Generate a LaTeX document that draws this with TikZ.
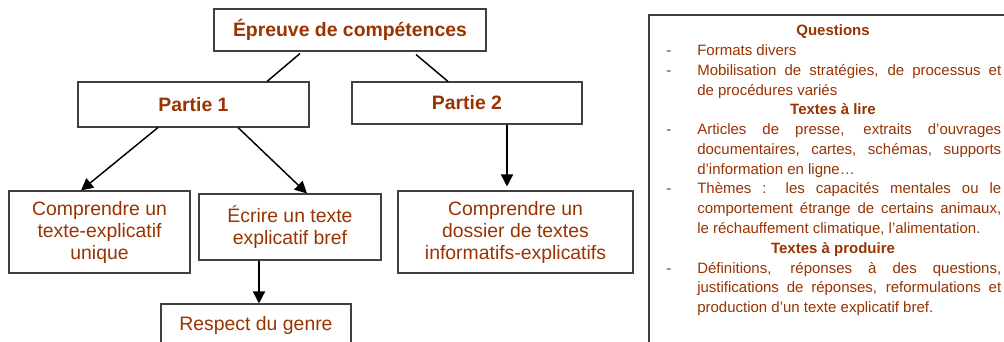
\documentclass[tikz,border=0pt]{standalone}
\usepackage{fontspec}
\setmainfont{Liberation Sans}
\usetikzlibrary{arrows.meta,calc}
\definecolor{txt}{RGB}{153,51,0}
\begin{document}
\begin{tikzpicture}[x=0.75pt,y=-0.75pt,
  box/.style={draw=black!75, line width=0.8pt, inner sep=0pt, align=center, text=txt,
    font=\fontsize{14.55pt}{16.5pt}\selectfont},
  bbox/.style={box, font=\fontsize{14.55pt}{16.5pt}\selectfont\bfseries},
  conn/.style={black, line width=1.1pt},
  arr/.style={conn, -{Triangle[length=9pt,width=9pt]}},
  frame/.style={draw=black!75, line width=0.8pt},
  body/.style={anchor=base west, inner sep=0pt, text=txt, font=\fontsize{11.25pt}{14.8pt}\selectfont},
  head/.style={anchor=base, inner sep=0pt, text=txt, font=\fontsize{11.25pt}{14.8pt}\selectfont\bfseries},
  dashmark/.style={anchor=base west, inner sep=0pt, text=txt, font=\fontsize{11.25pt}{14.8pt}\selectfont}]
\useasboundingbox (0,0) rectangle (1004,342);
\clip (0,0) rectangle (1004,342);
\fill[white] (0,0) rectangle (1004,342);

% left diagram
\node[bbox, minimum width=204pt, minimum height=31.5pt] (top) at (350,30) {Épreuve de compétences};
\node[bbox, minimum width=173.25pt, minimum height=33.75pt] (p1) at (193.5,104.5) {Partie 1};
\node[bbox, minimum width=172.5pt, minimum height=31.5pt] (p2) at (467,103) {Partie 2};
\node[box, minimum width=135.75pt, minimum height=61.5pt] (c1) at (99.5,232) {Comprendre un\\texte-explicatif\\unique};
\node[box, minimum width=136.5pt, minimum height=49.5pt] (ec) at (290,227) {Écrire un texte\\explicatif bref};
\node[box, minimum width=176.25pt, minimum height=61.5pt] (ds) at (515.5,232) {Comprendre un\\dossier de textes\\informatifs-explicatifs};
\node[box, minimum width=142.5pt, minimum height=31.5pt] (rg) at (256,325) {Respect du genre};

\draw[conn] ([xshift=-50*0.75pt, yshift=-1.5pt]top.south) -- ([xshift=73.5*0.75pt]p1.north);
\draw[conn] ([xshift=66*0.75pt, yshift=-2.25pt]top.south) -- ([xshift=-19*0.75pt]p2.north);
\draw[arr] ([xshift=-35.5*0.75pt]p1.south) -- ([xshift=-18.5*0.75pt]c1.north);
\draw[arr] ([xshift=44.5*0.75pt]p1.south) -- ([xshift=17*0.75pt]ec.north);
\draw[arr] ([xshift=40*0.75pt]p2.south) -- ([xshift=-8.5*0.75pt, yshift=3pt]ds.north);
\draw[arr] ([xshift=-31*0.75pt]ec.south) -- ([xshift=3*0.75pt]rg.north);

% right panel: only its top and left edges fall inside the picture
\draw[frame] (1020,15) -- (649,15) -- (649,360);

\node[head] (h1) at (833,36) {Questions};
\node[dashmark] (d1) at (666,55.75) {-};
\node[body] (t1) at (697,55.75) {\parbox[t]{228pt}{Formats divers}};
\node[dashmark] (d2) at (666,75.5) {-};
\node[body] (t2) at (697,75.5) {\parbox[t]{228pt}{Mobilisation de stratégies, de processus et\linebreak de procédures variés}};
\node[head] (h2) at (833,115) {Textes à lire};
\node[dashmark] (d3) at (666,134.75) {-};
\node[body] (t3) at (697,134.75) {\parbox[t]{228pt}{Articles de presse, extraits d’ouvrages\linebreak documentaires, cartes, schémas, supports\linebreak d’information en ligne…}};
\node[dashmark] (d4) at (666,194) {-};
\node[body] (t4) at (697,194) {\parbox[t]{228pt}{Thèmes~: les capacités mentales ou le\linebreak comportement étrange de certains animaux,\linebreak le réchauffement climatique, l’alimentation.}};
\node[head] (h3) at (833,253.25) {Textes à produire};
\node[dashmark] (d5) at (666,273) {-};
\node[body] (t5) at (697,273) {\parbox[t]{228pt}{Définitions, réponses à des questions,\linebreak justifications de réponses, reformulations et\linebreak production d’un texte explicatif bref.}};
\end{tikzpicture}
\end{document}
